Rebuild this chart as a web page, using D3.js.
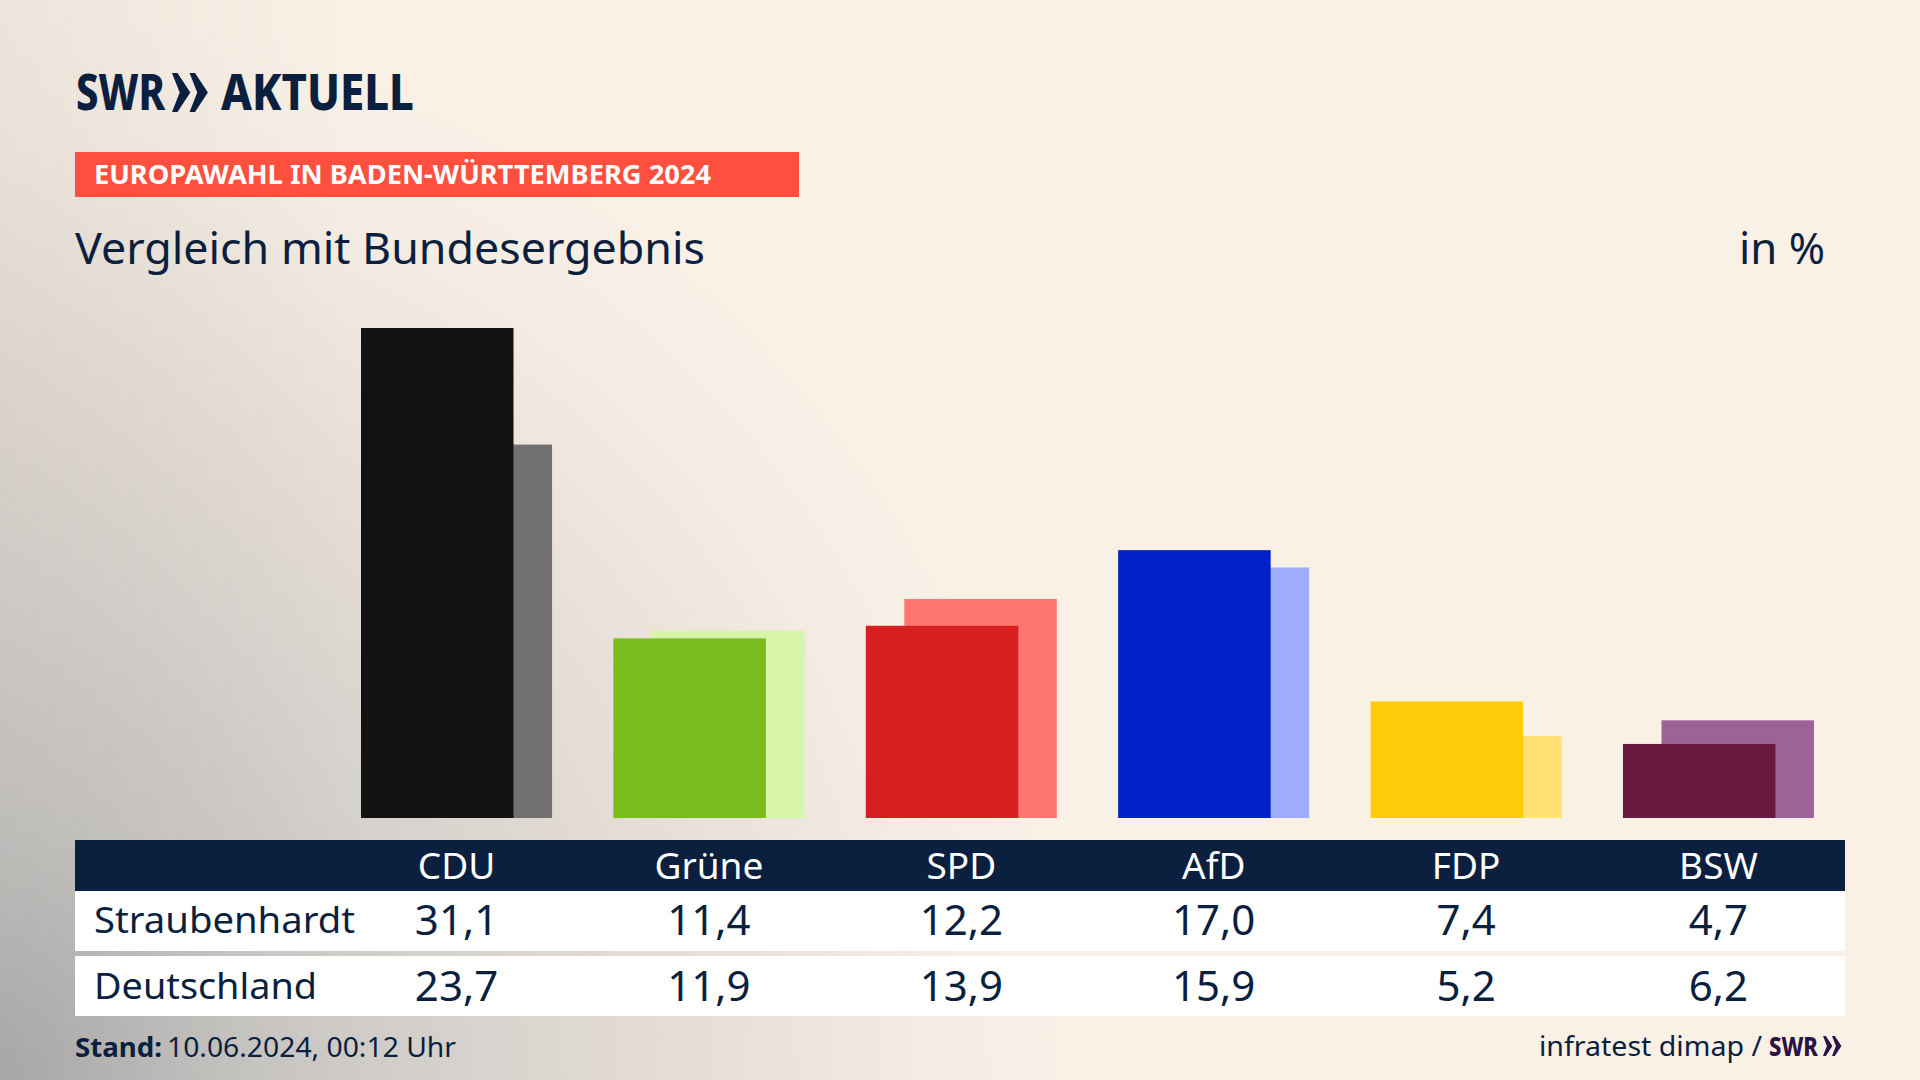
<!DOCTYPE html>
<html lang="de">
<head>
<meta charset="utf-8">
<script src="https://cdn.jsdelivr.net/npm/d3@7"></script>
<style>
  html, body { margin: 0; padding: 0; background: #f9f1e6; }
  svg { display: block; font-family: "Noto Sans", sans-serif; }
</style>
</head>
<body>
<svg id="chart" width="1920" height="1080"></svg>
<script>
const parties = ["CDU", "Grüne", "SPD", "AfD", "FDP", "BSW"];
const localValues = [31.1, 11.4, 12.2, 17.0, 7.4, 4.7];
const nationalValues = [23.7, 11.9, 13.9, 15.9, 5.2, 6.2];
const localColors = ["#121212", "#7abc1b", "#d81f1f", "#0021c8", "#ffcc0a", "#691a40"];
const nationalColors = ["#71706e", "#d7f5a9", "#ff7570", "#9fadff", "#ffe072", "#9c6399"];
const localLabel = "Straubenhardt";
const nationalLabel = "Deutschland";

const navy = "#0b1f3f";
const svg = d3.select("#chart");

// background: warm paper with a grey glow from the bottom left
const defs = svg.append("defs");
const glow = defs.append("radialGradient")
  .attr("id", "glow")
  .attr("gradientUnits", "userSpaceOnUse")
  .attr("cx", 0).attr("cy", 1080).attr("r", 1180);
[[0, "#b0afad"], [0.21, "#c8c6c3"], [0.38, "#d5d1cc"], [0.6, "#e6dfd7"], [0.8, "#f5ede3"], [0.92, "#f9f1e6"]]
  .forEach(([o, c]) => glow.append("stop").attr("offset", o).attr("stop-color", c));
const edge = defs.append("linearGradient")
  .attr("id", "edge")
  .attr("gradientUnits", "userSpaceOnUse")
  .attr("x1", 0).attr("y1", 0).attr("x2", 350).attr("y2", 0);
edge.append("stop").attr("offset", 0).attr("stop-color", "#000").attr("stop-opacity", 0.05);
edge.append("stop").attr("offset", 1).attr("stop-color", "#000").attr("stop-opacity", 0);
svg.append("rect").attr("width", 1920).attr("height", 1080).attr("fill", "url(#glow)");
svg.append("rect").attr("width", 350).attr("height", 1080).attr("fill", "url(#edge)");

// scales
const xScale = d3.scaleBand()
  .domain(parties)
  .range([361, 1814])
  .paddingInner(0.243);
const yScale = d3.scaleLinear().domain([0, 31.1]).range([818, 328]);
const barWidth = 152.5;
const barOffset = xScale.bandwidth() - barWidth;

// helper for text fitted to a measured width
function label(text, x, y, size, opts = {}) {
  const t = svg.append("text")
    .text(text)
    .attr("x", x)
    .attr("y", y)
    .attr("font-size", size)
    .attr("font-weight", opts.weight || 400)
    .attr("text-anchor", opts.anchor || "start")
    .attr("fill", opts.fill || navy);
  if (opts.width) {
    t.attr("textLength", opts.width).attr("lengthAdjust", "spacingAndGlyphs");
  }
  return t;
}

// the two notched arrow heads of the SWR logo
function chevrons(x, y, h, fill) {
  const w = h * 0.47;
  const gap = h * 0.45;
  [0, gap].forEach((dx) => {
    const points = [
      [x + dx, y],
      [x + dx + w * 0.3, y],
      [x + dx + w, y + h / 2],
      [x + dx + w * 0.3, y + h],
      [x + dx, y + h],
      [x + dx + w * 0.42, y + h / 2],
    ];
    svg.append("polygon").attr("points", points.join(" ")).attr("fill", fill);
  });
}

// header
label("SWR", 76, 110, 49, { weight: 800, width: 89 });
chevrons(172, 73, 39, navy);
label("AKTUELL", 221, 110, 49, { weight: 800, width: 193 });

svg.append("rect").attr("x", 75).attr("y", 152).attr("width", 724).attr("height", 45).attr("fill", "#ff4f3e");
label("EUROPAWAHL IN BADEN-WÜRTTEMBERG 2024", 94, 184, 26, { weight: 700, fill: "#fff", width: 617 });

label("Vergleich mit Bundesergebnis", 75, 264, 43, { width: 630 });
label("in %", 1739, 264, 44, { width: 86 });

// bars: national result sits behind the local one
svg.append("g").attr("id", "bars-national")
  .selectAll("rect")
  .data(parties)
  .join("rect")
  .attr("x", (d) => xScale(d) + barOffset)
  .attr("y", (d, i) => yScale(nationalValues[i]))
  .attr("width", barWidth)
  .attr("height", (d, i) => yScale(0) - yScale(nationalValues[i]))
  .attr("fill", (d, i) => nationalColors[i]);

svg.append("g").attr("id", "bars-local")
  .selectAll("rect")
  .data(parties)
  .join("rect")
  .attr("x", (d) => xScale(d))
  .attr("y", (d, i) => yScale(localValues[i]))
  .attr("width", barWidth)
  .attr("height", (d, i) => yScale(0) - yScale(localValues[i]))
  .attr("fill", (d, i) => localColors[i]);

// table
svg.append("rect").attr("x", 75).attr("y", 840).attr("width", 1770).attr("height", 51).attr("fill", navy);
svg.append("rect").attr("x", 75).attr("y", 891).attr("width", 1770).attr("height", 60).attr("fill", "#fff");
svg.append("rect").attr("x", 75).attr("y", 956).attr("width", 1770).attr("height", 60).attr("fill", "#fff");

const headerAxis = d3.axisBottom(xScale).tickSize(0).tickPadding(0);
const headerGroup = svg.append("g")
  .attr("id", "party-axis")
  .attr("transform", "translate(0,852)")
  .call(headerAxis);
headerGroup.select(".domain").remove();
headerGroup.selectAll(".tick text")
  .attr("font-family", '"Noto Sans", sans-serif')
  .attr("font-size", 37)
  .attr("fill", "#fff")
  .attr("dy", "0.72em")
  .attr("y", 0);

const formatValue = (v) => v.toFixed(1).replace(".", ",");

function tableRow(name, values, y) {
  label(name, 94, y - 2, 37, { width: name === localLabel ? 261 : 223 });
  svg.append("g")
    .selectAll("text")
    .data(values)
    .join("text")
    .text(formatValue)
    .attr("x", (d, i) => xScale(parties[i]) + xScale.bandwidth() / 2)
    .attr("y", y)
    .attr("text-anchor", "middle")
    .attr("font-size", 42)
    .attr("fill", navy);
}
tableRow(localLabel, localValues, 935);
tableRow(nationalLabel, nationalValues, 1001);

// footer
label("Stand:", 75, 1057, 27, { weight: 700, width: 87 });
label("10.06.2024, 00:12 Uhr", 167, 1057, 27, { width: 289 });
label("infratest dimap /", 1539, 1056, 28, { width: 223 });
label("SWR", 1769, 1056, 27, { weight: 800, fill: "#2a1245", width: 49 });
chevrons(1823, 1036, 20, "#2a1245");
</script>
</body>
</html>
